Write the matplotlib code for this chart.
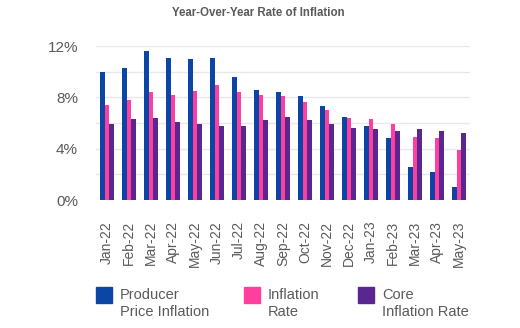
import matplotlib
matplotlib.use("Agg")
import matplotlib.pyplot as plt
from matplotlib.patches import Rectangle
import numpy as np

months = ["Jan-22", "Feb-22", "Mar-22", "Apr-22", "May-22", "Jun-22", "Jul-22",
          "Aug-22", "Sep-22", "Oct-22", "Nov-22", "Dec-22", "Jan-23", "Feb-23",
          "Mar-23", "Apr-23", "May-23"]
producer_price = [10.0, 10.3, 11.6, 11.1, 11.0, 11.1, 9.6, 8.6, 8.4, 8.1, 7.3,
                  6.5, 5.8, 4.8, 2.6, 2.2, 1.0]
inflation_rate = [7.4, 7.8, 8.4, 8.2, 8.5, 9.0, 8.4, 8.2, 8.1, 7.6, 7.0,
                  6.4, 6.3, 5.9, 4.9, 4.8, 3.9]
core_inflation = [5.9, 6.3, 6.4, 6.1, 5.9, 5.8, 5.8, 6.2, 6.5, 6.2, 5.9,
                  5.6, 5.5, 5.4, 5.5, 5.4, 5.2]
series_labels = ["Producer\nPrice Inflation", "Inflation\nRate", "Core\nInflation Rate"]
y_ticks = [0, 4, 8, 12]

colors = ["#0b46a6", "#ff3fa0", "#5a2790"]
text_color = "#5a5a5a"
plt.rcParams["font.family"] = ["Liberation Sans", "DejaVu Sans"]

fig = plt.figure(figsize=(5.2, 3.28), dpi=100)
ax = fig.add_axes([96 / 520, 1 - 200 / 328, 374 / 520, 154 / 328])

x = np.arange(len(months))
w = 0.215
for i, vals in enumerate([producer_price, inflation_rate, core_inflation]):
    ax.bar(x + (i - 1) * w, vals, width=w, color=colors[i], zorder=3)

ax.set_xlim(-0.5, len(months) - 0.5)
ax.set_ylim(0, 12)
ax.set_yticks(np.arange(0, 13, 2))
ax.set_yticklabels([f"{v}%" if v in y_ticks else "" for v in range(0, 13, 2)])
ax.set_xticks(x)
ax.set_xticklabels(months, rotation=90)
ax.tick_params(axis="x", length=0, pad=15, labelsize=10, labelcolor=text_color)
ax.tick_params(axis="y", length=0, pad=13, labelsize=11, labelcolor=text_color)
ax.grid(axis="y", color="#e8e8e8", linewidth=1, zorder=0)
for s in ax.spines.values():
    s.set_visible(False)

fig.text(0.497, 1 - 13 / 328, "Year-Over-Year Rate of Inflation", ha="center",
         va="center", fontsize=8.3, fontweight="bold", color=text_color,
         family=["Liberation Sans Narrow", "Liberation Sans"])

# legend drawn as squares with two-line labels
leg_x = [96, 244, 358]
for i, lab in enumerate(series_labels):
    fig.add_artist(Rectangle((leg_x[i] / 520, 1 - 303 / 328), 16 / 520, 16 / 328,
                             transform=fig.transFigure, color=colors[i]))
    fig.text((leg_x[i] + 24) / 520, 1 - 288 / 328, lab, ha="left", va="top",
             fontsize=10.5, color=text_color, linespacing=1.25)

fig.savefig("out.png", dpi=100)
